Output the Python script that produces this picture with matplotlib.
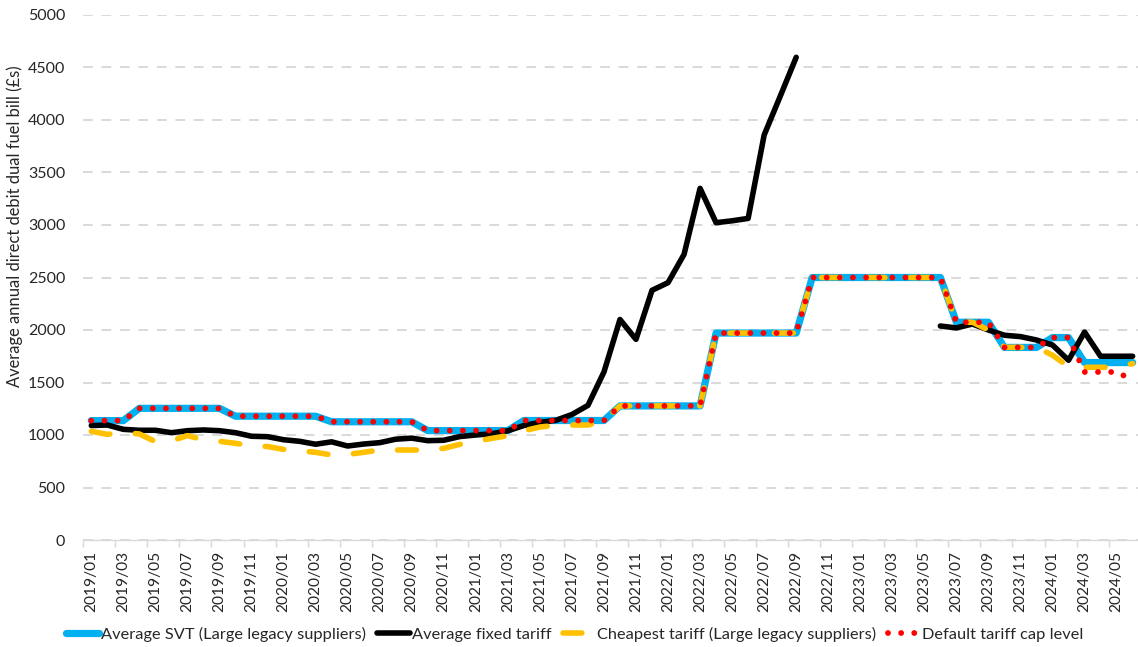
import numpy as np
import matplotlib
matplotlib.use("Agg")
import matplotlib.pyplot as plt
from matplotlib.lines import Line2D
from matplotlib.ticker import FixedLocator

nan = np.nan

months = [f"{y}/{m:02d}" for y in range(2019, 2025) for m in range(1, 13)][:66]

svt = [1137, 1137, 1137, 1254, 1254, 1254, 1254, 1254, 1254, 1179,
       1179, 1179, 1179, 1179, 1179, 1126, 1126, 1126, 1126, 1126,
       1126, 1042, 1042, 1042, 1042, 1042, 1042, 1138, 1138, 1138,
       1138, 1138, 1138, 1277, 1277, 1277, 1277, 1277, 1277, 1971,
       1971, 1971, 1971, 1971, 1971, 2500, 2500, 2500, 2500, 2500,
       2500, 2500, 2500, 2500, 2074, 2074, 2074, 1834, 1834, 1834,
       1928, 1928, 1690, 1690, 1690, 1690]

fixed = [1090, 1095, 1054, 1045, 1045, 1022, 1041, 1048, 1041, 1022,
         988, 984, 955, 940, 912, 935, 895, 914, 927, 960,
         970, 946, 950, 985, 1000, 1012, 1040, 1090, 1120, 1140,
         1195, 1282, 1600, 2100, 1911, 2378, 2451, 2720, 3349, 3022,
         3040, 3063, 3857, 4225, 4597, nan, nan, nan, nan, nan,
         nan, nan, nan, 2038, 2020, 2057, 2000, 1950, 1937, 1905,
         1857, 1712, 1980, 1750, 1750, 1750]

cheapest = [1035, 1006, 1025, 1010, 937, 945, 994, 955, 940, 921,
            898, 890, 863, 850, 835, 810, 815, 835, 857, 857,
            857, 857, 873, 911, 940, 968, 994, 1040, 1076, 1092,
            1095, 1095, 1137, 1277, 1277, 1277, 1277, 1277, 1277, 1971,
            1971, 1971, 1971, 1971, 1971, 2500, 2500, 2500, 2500, 2500,
            2500, 2500, 2500, 2500, 2074, 2074, 2000, 1835, 1835, 1835,
            1760, 1650, 1645, 1645, 1645, 1680]

cap = [1137, 1137, 1137, 1254, 1254, 1254, 1254, 1254, 1254, 1179,
       1179, 1179, 1179, 1179, 1179, 1126, 1126, 1126, 1126, 1126,
       1126, 1042, 1042, 1042, 1042, 1042, 1042, 1138, 1138, 1138,
       1138, 1138, 1138, 1277, 1277, 1277, 1277, 1277, 1277, 1971,
       1971, 1971, 1971, 1971, 1971, 2500, 2500, 2500, 2500, 2500,
       2500, 2500, 2500, 2500, 2074, 2074, 2074, 1834, 1834, 1834,
       1928, 1928, 1600, 1600, 1600, 1524]

series_names = ["Average SVT (Large legacy suppliers)", "Average fixed tariff",
                "Cheapest tariff (Large legacy suppliers)", "Default tariff cap level"]
y_ticks = [0, 500, 1000, 1500, 2000, 2500, 3000, 3500, 4000, 4500, 5000]
y_label = "Average annual direct debit dual fuel bill (£s)"

plt.rcParams["font.family"] = ["Lato", "DejaVu Sans"]
TXT = "#262626"

W, H = 1138, 647
fig = plt.figure(figsize=(W / 100, H / 100), dpi=100)
ax_left, ax_right = 83.3, 83.3 + 66 * 16.02
ax_top, ax_bot = 15, 540
ax = fig.add_axes([ax_left / W, 1 - ax_bot / H, (ax_right - ax_left) / W, (ax_bot - ax_top) / H])

x = np.arange(len(months))

styles = [
    dict(color="#00B0F0", lw=5.2, solid_capstyle="round", solid_joinstyle="round"),
    dict(color="black", lw=4.0, solid_capstyle="round", solid_joinstyle="round"),
    dict(color="#FFC000", lw=4.0, linestyle=(0, (3.4, 4.6)), dash_capstyle="round", dash_joinstyle="round"),
    dict(color="#FF0000", lw=4.2, linestyle=(0, (0.001, 2.25)), dash_capstyle="round"),
]
for vals, st in zip([svt, fixed, cheapest, cap], styles):
    ax.plot(x, vals, **st, zorder=3)

ax.set_xlim(-0.5, 65.5)
ax.set_ylim(0, 5000)
ax.set_yticks(y_ticks)
ax.set_yticklabels([str(v) for v in y_ticks])
ax.yaxis.grid(True, color="#D9D9D9", lw=1.4, linestyle=(0, (5, 4.5)))
ax.set_axisbelow(True)

ax.set_xticks(x[::2])
ax.set_xticklabels(months[::2], rotation=90)
ax.xaxis.set_minor_locator(FixedLocator(np.arange(-0.5, 66, 2)))
ax.tick_params(axis="x", which="major", length=0, pad=8, labelsize=11.2, labelcolor=TXT)
ax.tick_params(axis="x", which="minor", length=5, width=1, color="#D9D9D9")
ax.tick_params(axis="y", length=0, pad=13, labelsize=11.5, labelcolor=TXT)

for s in ["top", "right", "left"]:
    ax.spines[s].set_visible(False)
ax.spines["bottom"].set_color("#D9D9D9")
ax.spines["bottom"].set_linewidth(1)

fig.text(15 / W, 1 - 226 / H, y_label, rotation=90, ha="center", va="center",
         fontsize=11.9, color=TXT)

handles = [Line2D([0], [0], **st) for st in styles]
fig.legend(handles, series_names, loc="center", bbox_to_anchor=(575 / W, 1 - 634 / H),
           ncol=4, frameon=False, fontsize=11.8, handlelength=2.0, handletextpad=0.1,
           columnspacing=0.7, labelcolor=TXT)

fig.savefig("out.png", dpi=100)
